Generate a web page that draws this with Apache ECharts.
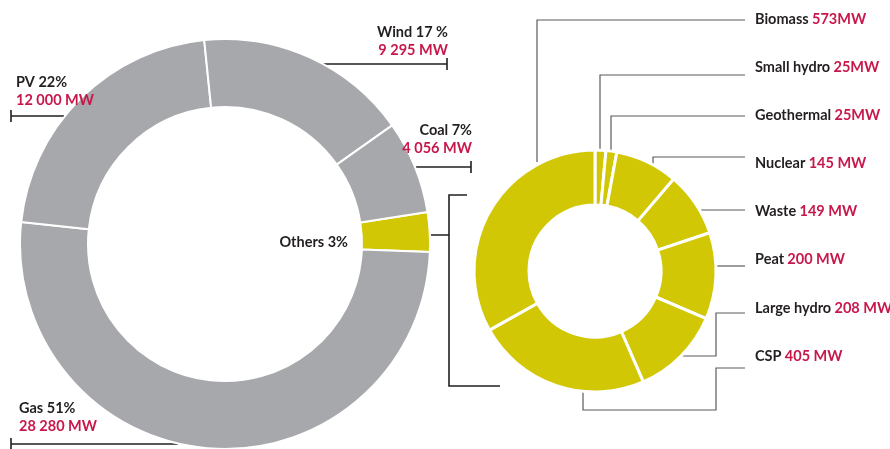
<!DOCTYPE html>
<html>
<head>
<meta charset="utf-8">
<script src="https://cdn.jsdelivr.net/npm/echarts@6/dist/echarts.min.js"></script>
<style>
html,body{margin:0;padding:0;background:#fff;}
#chart{width:890px;height:449px;}
</style>
</head>
<body>
<div id="chart"></div>
<script>
// ---- Data ----
const mainNames = ['Others', 'Gas', 'PV', 'Wind', 'Coal'];
const mainValues = [1730, 28280, 12000, 9295, 4056];
const mainShares = ['3%', '51%', '22%', '17 %', '7%'];
const mainValueLabels = ['', '28 280 MW', '12 000 MW', '9 295 MW', '4 056 MW'];

const otherNames = ['Small hydro', 'Geothermal', 'Nuclear', 'Waste', 'Peat', 'Large hydro', 'CSP', 'Biomass'];
const otherValues = [25, 25, 145, 149, 200, 208, 405, 573];
const otherValueLabels = ['25MW', '25MW', '145 MW', '149 MW', '200 MW', '208 MW', '405 MW', '573MW'];

// ---- Styling / layout (not data) ----
const GREY = '#a7a8ab';
const YELLOW = '#d2c704';
const DARK = '#231f20';
const RED = '#c8174b';
const FONT = 'Lato, sans-serif';
const FS = 14.5;
const TICK = 6;

function capped(a, b) { // line a->b with a vertical end cap at b
  return [a, b, [b[0], b[1] - TICK], [b[0], b[1] + TICK]];
}

const mainLayout = [
  { x: 348, y: 242, align: 'right', line: [[431, 235], [449, 235], [449, 195], [467, 195], [449, 195], [449, 386], [500, 386]] },
  { x: 19, y: 417, align: 'left', line: capped([178, 444], [11, 444]) },
  { x: 16, y: 91, align: 'left', line: capped([64, 116], [11, 116]) },
  { x: 448, y: 41, align: 'right', line: capped([323, 64], [447, 64]) },
  { x: 472, y: 139, align: 'right', line: capped([409, 167], [471, 167]) }
];

const otherLayout = [
  { y: 67, line: [[600, 150], [600, 75], [745, 75]] },
  { y: 115, line: [[611, 151], [611, 116], [745, 116]] },
  { y: 163, line: [[653, 168], [653, 157], [745, 157]] },
  { y: 211, line: [[699, 210], [745, 210]] },
  { y: 259, line: [[716, 266], [745, 266]] },
  { y: 308, line: [[680, 356], [716, 356], [716, 313], [745, 313]] },
  { y: 356, line: [[583, 391], [583, 410], [716, 410], [716, 368], [745, 368]] },
  { y: 19, line: [[537, 162], [537, 20], [745, 20]] }
];

const rich = {
  n: { color: DARK, fontFamily: FONT, fontWeight: 'bold', fontSize: FS, lineHeight: 18 },
  v: { color: RED, fontFamily: FONT, fontWeight: 'bold', fontSize: FS, lineHeight: 18 }
};

const chart = echarts.init(document.getElementById('chart'), null, { renderer: 'canvas' });

chart.setOption({
  animation: false,
  series: [
    {
      type: 'pie',
      center: [225, 244],
      radius: [137, 205],
      startAngle: 9,
      clockwise: true,
      avoidLabelOverlap: false,
      silent: true,
      itemStyle: { borderColor: '#fff', borderWidth: 2 },
      data: mainNames.map((n, i) => ({
        name: n,
        value: mainValues[i],
        itemStyle: { color: n === 'Others' ? YELLOW : GREY }
      })),
      label: {
        show: true,
        position: 'outside',
        rich: rich,
        formatter: p => {
          const i = p.dataIndex;
          let s = '{n|' + mainNames[i] + ' ' + mainShares[i] + '}';
          if (mainValueLabels[i]) s += '\n{v|' + mainValueLabels[i] + '}';
          return s;
        }
      },
      labelLine: { show: true, smooth: false, lineStyle: { color: DARK, width: 1.6 } },
      labelLayout: p => {
        const L = mainLayout[p.dataIndex];
        return { x: L.x, y: L.y, align: L.align, verticalAlign: 'middle', labelLinePoints: L.line };
      }
    },
    {
      type: 'pie',
      center: [595, 271],
      radius: [66, 121],
      startAngle: 90,
      clockwise: true,
      avoidLabelOverlap: false,
      silent: true,
      itemStyle: { borderColor: '#fff', borderWidth: 3, color: YELLOW },
      data: otherNames.map((n, i) => ({ name: n, value: otherValues[i] })),
      label: {
        show: true,
        position: 'outside',
        rich: rich,
        formatter: p => '{n|' + otherNames[p.dataIndex] + '} {v|' + otherValueLabels[p.dataIndex] + '}'
      },
      labelLine: { show: true, smooth: false, lineStyle: { color: '#5b5b5b', width: 1.2 } },
      labelLayout: p => {
        const L = otherLayout[p.dataIndex];
        return { x: 755, y: L.y, align: 'left', verticalAlign: 'middle', labelLinePoints: L.line };
      }
    }
  ]
});
</script>
</body>
</html>
